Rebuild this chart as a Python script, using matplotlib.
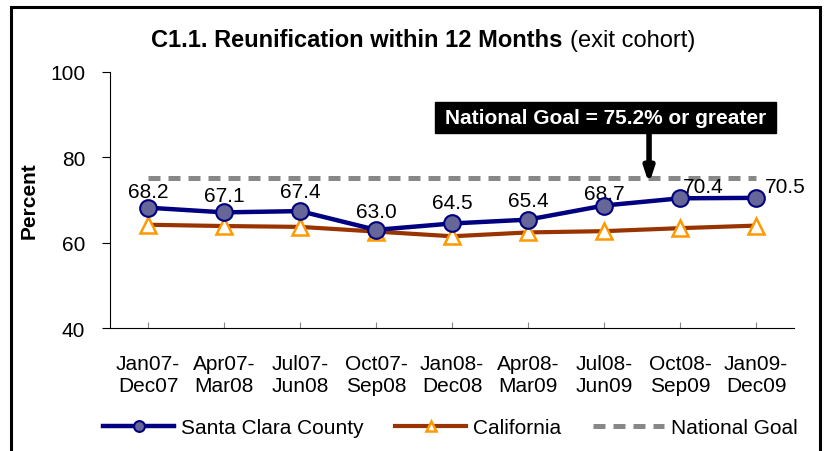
import matplotlib.pyplot as plt
from matplotlib.patches import Rectangle

plt.rcParams['font.family'] = ['Liberation Sans', 'DejaVu Sans']

periods = ['Jan07-\nDec07', 'Apr07-\nMar08', 'Jul07-\nJun08', 'Oct07-\nSep08', 'Jan08-\nDec08',
           'Apr08-\nMar09', 'Jul08-\nJun09', 'Oct08-\nSep09', 'Jan09-\nDec09']
santa_clara = [68.2, 67.1, 67.4, 63.0, 64.5, 65.4, 68.7, 70.4, 70.5]
california = [64.2, 63.9, 63.7, 62.6, 61.5, 62.4, 62.7, 63.4, 64.0]
national_goal = 75.2

# label offsets (points) for the Santa Clara value labels
label_dx = [0, 0, 0, 0, 0, 0, 0, 17, 6]
label_dy = [8, 8, 10, 9, 11, 10, 5, 4.5, 4.5]
label_ha = ['center'] * 8 + ['left']

fig = plt.figure(figsize=(8.28, 4.52), dpi=100)
fig.patches.append(Rectangle((11 / 828, -0.05), 809 / 828, 1.05 - 8 / 452,
                             transform=fig.transFigure, fill=False,
                             edgecolor='black', linewidth=2.2))
ax = fig.add_axes([0.1329, 0.2721, 0.8261, 0.5664])

x = list(range(len(periods)))
ax.plot(x, [national_goal] * len(x), color='#888888', lw=3.6, dashes=(2.4, 1.6),
        label='National Goal', zorder=2)
ax.plot(x, california, color='#993300', lw=3, marker='^', ms=11, mfc='white',
        mec='#FF9900', mew=1.8, label='California', zorder=3)
ax.plot(x, santa_clara, color='#000080', lw=3.2, marker='o', ms=12, mfc='#666699',
        mec='#000080', mew=1.5, label='Santa Clara County', zorder=4)

for i, v in enumerate(santa_clara):
    ax.annotate(f'{v:.1f}', (i, v), xytext=(label_dx[i], label_dy[i]),
                textcoords='offset points', ha=label_ha[i], va='baseline', fontsize=15)

# goal call-out box with arrow
ax.annotate('', xy=(6.592, 73.75), xytext=(6.592, 85.8),
            arrowprops=dict(arrowstyle='-|>,head_width=0.28,head_length=0.85',
                            color='black', lw=4, shrinkA=0, shrinkB=0), zorder=5)
ax.add_patch(Rectangle((3.776, 85.7), 8.263 - 3.776, 92.97 - 85.7, facecolor='black',
                       edgecolor='black', clip_on=False, zorder=6))
ax.text(6.02, 89.34, 'National Goal = 75.2% or greater', ha='center', va='center',
        fontsize=15, fontweight='bold', color='white', zorder=7)

ax.set_xlim(-0.5, 8.5)
ax.set_ylim(40, 100)
ax.set_yticks([40, 60, 80, 100])
ax.tick_params(axis='y', labelsize=15, length=6, direction='out', pad=12)
ax.set_xticks(x)
ax.set_xticklabels(periods, fontsize=15, linespacing=1.15)
ax.tick_params(axis='x', length=4, direction='in', pad=19, color='#888888')
ax.spines['top'].set_visible(False)
ax.spines['right'].set_visible(False)
ax.set_ylabel('Percent', fontsize=15, fontweight='bold', labelpad=10)
ax.yaxis.set_label_coords(-0.105, 0.5)

fig.text(562 / 828, 1 - 47 / 452, 'C1.1. Reunification within 12 Months', ha='right',
         va='baseline', fontsize=17, fontweight='bold')
fig.text(570 / 828, 1 - 47 / 452, '(exit cohort)', ha='left', va='baseline', fontsize=17)

handles, labels = ax.get_legend_handles_labels()
order = [2, 1, 0]
fig.legend([handles[i] for i in order], [labels[i] for i in order], loc='center',
           bbox_to_anchor=(0.544, 0.051), ncol=3, frameon=False, fontsize=15,
           handlelength=3.4, columnspacing=1.5, handletextpad=0.35, markerscale=0.65)

fig.savefig('out.png', dpi=100)
